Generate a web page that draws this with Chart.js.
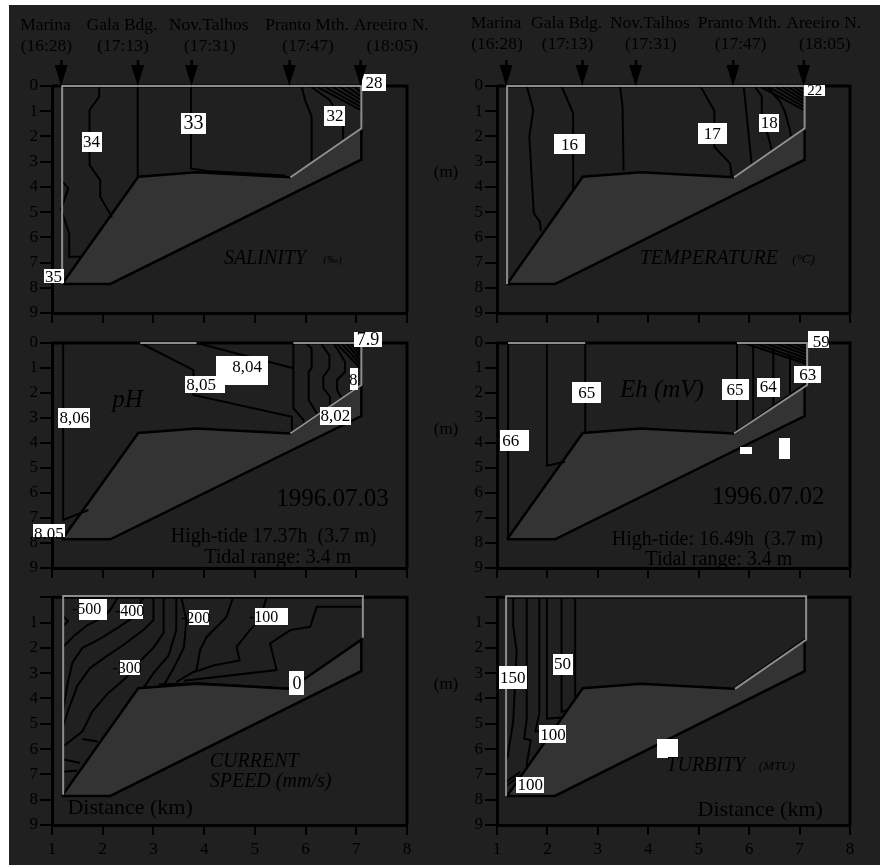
<!DOCTYPE html>
<html>
<head>
<meta charset="utf-8">
<script src="https://cdn.jsdelivr.net/npm/chart.js@4.4.1/dist/chart.umd.min.js"></script>
<style>
  html, body { margin: 0; padding: 0; background: #fff; }
  #sheet { position: absolute; left: 9px; top: 5px; width: 871px; height: 860px; background: #202020; }
  canvas { position: absolute; }
</style>
</head>
<body>
<div id="sheet"></div>
<canvas id="salinity" width="440" height="330" style="left:0;top:0"></canvas>
<canvas id="temperature" width="460" height="330" style="left:420px;top:0"></canvas>
<canvas id="ph" width="440" height="255" style="left:0;top:330px"></canvas>
<canvas id="eh" width="460" height="255" style="left:420px;top:330px"></canvas>
<canvas id="current" width="440" height="280" style="left:0;top:585px"></canvas>
<canvas id="turbidity" width="460" height="280" style="left:420px;top:585px"></canvas>
<script>
// ---- data (distance km, depth m) ----
const depthTicks = [0, 1, 2, 3, 4, 5, 6, 7, 8, 9];
const distanceTicks = [1, 2, 3, 4, 5, 6, 7, 8];

const stations = ['Marina', 'Gala Bdg.', 'Nov.Talhos', 'Pranto Mth.', 'Areeiro N.'];
const stationTimes = ['(16:28)', '(17:13)', '(17:31)', '(17:47)', '(18:05)'];
const stationKm = [1.18, 2.69, 3.75, 5.68, 7.08];

// channel bed
const bedPolygon = [[1.2, 7.85], [2.7, 3.6], [3.85, 3.42], [5.7, 3.62], [7.1, 1.68],
                    [7.1, 2.92], [2.15, 7.85], [1.2, 7.85]];

// salinity isolines
const salinityLines = [
  [[1.18, 3.73], [1.32, 4.05], [1.18, 4.9], [1.34, 5.85], [1.34, 6.77], [1.58, 6.77]],
  [[1.93, 0], [1.93, 0.42], [1.74, 0.95], [1.74, 3.13], [1.95, 3.73], [1.95, 4.39], [2.14, 5.05], [2.18, 5.2]],
  [[2.69, 0], [2.69, 3.62]],
  [[3.74, 0], [3.74, 3.27], [4.05, 3.37], [5.6, 3.55]],
  [[5.92, 0], [5.99, 0.56], [6.12, 1.22], [6.12, 3.04]],
  [[6.09, 0], [6.48, 0.56], [6.74, 1.55], [6.74, 2.15]],
  [[6.2, 0], [7.1, 0.97]], [[6.35, 0], [7.1, 0.84]], [[6.5, 0], [7.1, 0.7]],
  [[6.65, 0], [7.1, 0.56]], [[6.8, 0], [7.1, 0.42]], [[6.95, 0], [7.1, 0.28]]
];
const salinityValues = [
  [1.78, 2.21, '34'], [3.79, 1.47, '33'], [6.58, 1.19, '32'], [7.35, -0.15, '28'], [1.03, 7.55, '35']
];

// temperature isolines
const temperatureLines = [
  [[1.59, 0], [1.72, 0.95], [1.64, 2.0], [1.73, 5.05], [1.85, 5.38], [1.87, 5.75]],
  [[2.28, 0], [2.51, 1.08], [2.51, 4.1]],
  [[3.44, 0], [3.49, 0.82], [3.51, 3.35]],
  [[5.03, 0], [5.31, 0.98], [5.31, 2.41], [5.62, 3.07], [5.66, 3.6]],
  [[5.89, 0], [5.92, 0.56], [6.05, 3.1]],
  [[6.1, 0], [6.25, 0.4], [6.25, 1.1], [6.42, 2.3], [6.45, 2.58]],
  [[6.35, 0], [6.61, 0.62], [6.71, 1.02], [6.81, 1.75], [6.83, 2.05]],
  [[6.2, 0], [7.08, 0.95]], [[6.35, 0], [7.08, 0.82]], [[6.5, 0], [7.08, 0.69]],
  [[6.62, 0], [7.08, 0.56]], [[6.74, 0], [7.08, 0.43]], [[6.86, 0], [7.08, 0.3]], [[6.97, 0], [7.08, 0.16]]
];
const temperatureValues = [
  [2.44, 2.31, '16'], [5.27, 1.88, '17'], [6.40, 1.45, '18'], [7.30, 0.16, '22']
];

// pH isolines
const phLines = [
  [[1.22, 0], [2.74, 0]],
  [[1.22, 0], [1.22, 7.08], [1.72, 6.68]],
  [[2.74, 0], [3.79, 1.08], [3.79, 2.08], [5.73, 2.95], [5.73, 3.61]],
  [[3.85, 0], [5.76, 1.01]],
  [[5.76, 0], [5.76, 2.61], [5.96, 3.08], [5.96, 3.3]],
  [[6.0, 0], [6.12, 0.21], [6.12, 1.01], [6.06, 1.15], [6.06, 2.28], [6.22, 2.81], [6.22, 2.9]],
  [[6.3, 0], [6.47, 0.5], [6.47, 1.01], [6.35, 1.35], [6.35, 1.8], [6.48, 2.15], [6.48, 2.5]],
  [[6.55, 0], [6.78, 0.75], [6.78, 1.15], [6.62, 1.48], [6.62, 1.88], [6.71, 2.2]],
  [[6.6, 0], [7.1, 1.05]], [[6.7, 0], [7.1, 0.9]], [[6.8, 0], [7.1, 0.75]],
  [[6.88, 0], [7.1, 0.6]], [[6.95, 0], [7.1, 0.45]], [[7.02, 0], [7.1, 0.3]]
];
const phValues = [
  [4.75, 1.1, '8,04'], [1.44, 2.98, '8,06'], [4.02, 1.65, '8,05'], [6.59, 2.91, '8,02'],
  [7.23, -0.15, '7.9'], [6.96, 1.45, '8'], [0.94, 7.5, '8.05']
];

// Eh isolines
const ehLines = [
  [[1.22, 0], [1.22, 7.88]],
  [[1.99, 0], [1.99, 4.91], [2.35, 4.75]],
  [[2.75, 0], [2.75, 3.62]],
  [[5.76, 0], [5.76, 3.61]],
  [[6.08, 0], [6.08, 3.1]],
  [[6.48, 0.2], [6.48, 2.55]],
  [[6.81, 0.5], [6.81, 2.1]],
  [[5.9, 0], [7.15, 0.85]], [[6.1, 0], [7.15, 0.75]], [[6.3, 0], [7.15, 0.63]], [[6.5, 0], [7.15, 0.5]],
  [[6.68, 0], [7.15, 0.38]], [[6.85, 0], [7.15, 0.25]], [[7.0, 0], [7.15, 0.12]]
];
const ehValues = [
  [2.78, 1.97, '65'], [5.72, 1.86, '65'], [6.38, 1.76, '64'], [7.16, 1.27, '63'],
  [7.37, -0.15, '59'], [1.35, 3.89, '66'], [6.71, 4.21, ''], [5.93, 4.29, '']
];

// current speed isolines
const currentLines = [
  [[1.22, 0.75], [1.32, 0.95], [1.24, 1.1]],
  [[1.22, 1.96], [1.45, 1.5], [1.7, 1.1], [2.0, 0.8], [2.15, 0.5], [2.3, 0]],
  [[1.22, 4.45], [1.3, 3.5], [1.4, 2.6], [1.6, 2.0], [1.9, 1.7], [2.3, 1.2], [2.6, 0.8], [2.8, 0]],
  [[1.22, 5.1], [1.35, 4.3], [1.5, 3.5], [1.75, 2.8], [2.1, 2.3], [2.4, 1.9], [2.8, 1.3], [3.0, 0.9], [3.0, 0]],
  [[1.22, 5.9], [1.6, 5.3], [1.8, 4.5], [2.1, 3.8], [2.45, 3.2], [2.7, 2.6], [3.0, 2.0], [3.2, 1.4], [3.2, 0]],
  [[1.22, 6.4], [1.55, 6.55]],
  [[1.22, 6.9], [1.5, 6.85]],
  [[1.6, 5.6], [1.9, 5.7]],
  [[2.8, 3.6], [3.0, 3.0], [3.3, 2.3], [3.45, 1.3], [3.45, 0]],
  [[3.2, 3.5], [3.4, 2.8], [3.6, 2.0], [3.65, 0.9], [3.55, 0]],
  [[3.45, 3.35], [3.85, 2.88], [3.92, 2.09], [4.05, 1.57], [4.44, 0.78], [4.57, 0]],
  [[3.8, 2.96], [4.18, 2.7], [4.7, 2.5], [4.64, 1.96], [4.9, 1.3], [5.1, 0.9], [5.23, 0]],
  [[3.6, 3.3], [5.43, 2.88], [5.3, 1.83], [5.7, 1.3], [6.09, 1.17], [6.22, 0.38], [7.11, 0.38]],
  [[3.1, 3.45], [3.9, 3.4], [5.7, 3.62]]
];
const currentValues = [
  [1.8, 0.47, '-500'], [2.57, 0.55, '-400'], [3.89, 0.81, '-200'], [5.33, 0.78, '-100'],
  [2.54, 2.79, '-300'], [5.83, 3.39, '0']
];

// turbidity isolines
const turbidityLines = [
  [[1.32, 0], [1.32, 1.1], [1.39, 2.16], [1.32, 4.93], [1.22, 6.18], [1.2, 6.4]],
  [[1.59, 0], [1.59, 4.8], [1.54, 5.59], [1.67, 5.65], [1.6, 6.46], [1.59, 6.75]],
  [[1.84, 0], [1.84, 4.6], [1.76, 5.3], [2.12, 5.25]],
  [[1.99, 0], [1.99, 4.8], [2.29, 4.75]],
  [[2.28, 0], [2.28, 4.53], [2.4, 4.45]],
  [[2.55, 0], [2.55, 3.94], [2.59, 3.9]],
  [[1.18, 7.3], [1.46, 6.9]],
  [[1.2, 7.43], [1.48, 7.03]]
];
const turbidityValues = [
  [1.31, 3.16, '150'], [2.30, 2.64, '50'], [2.11, 5.42, '100'], [1.66, 7.41, '100'], [4.38, 5.97, '']
];

// ---- drawing ----
const SERIF = '"Liberation Serif", "DejaVu Serif", serif';
const GREY = '#8c8c8c';

function lineSet(points, color, width) {
  return {
    data: points.map(([x, y]) => ({ x, y })),
    showLine: true, borderColor: color, borderWidth: width,
    pointRadius: 0, fill: false, tension: 0, clip: false
  };
}

function makePanel(id, p) {
  const canvas = document.getElementById(id);
  const W = canvas.width, H = canvas.height;
  const datasets = [];
  p.grey.forEach(g => datasets.push(lineSet(g, GREY, 2)));
  p.lines.forEach(l => datasets.push(lineSet(l, '#000', 2)));
  datasets.push(lineSet(bedPolygon, '#000', 2.5));

  const decor = {
    id: 'decor_' + id,
    beforeDatasetsDraw(chart) {
      const { ctx, chartArea: a, scales: { x, y } } = chart;
      ctx.save();
      ctx.beginPath();
      bedPolygon.forEach(([k, d], i) => {
        const px = x.getPixelForValue(k), py = y.getPixelForValue(d);
        i ? ctx.lineTo(px, py) : ctx.moveTo(px, py);
      });
      ctx.closePath();
      ctx.fillStyle = '#333333';
      ctx.fill();
      // top and right side of the frame
      ctx.strokeStyle = '#000';
      ctx.lineWidth = 3;
      ctx.beginPath();
      ctx.moveTo(a.left, a.top);
      ctx.lineTo(a.right, a.top);
      ctx.lineTo(a.right, a.bottom);
      ctx.stroke();
      ctx.restore();
    },
    afterDatasetsDraw(chart) {
      const { ctx, scales: { x, y } } = chart;
      ctx.save();
      p.values.forEach(([k, d, txt], i) => {
        const st = p.boxes[i];
        const cx = x.getPixelForValue(k), cy = y.getPixelForValue(d);
        ctx.fillStyle = '#fff';
        ctx.fillRect(Math.round(cx - st[0] / 2), Math.round(cy - st[1] / 2), st[0], st[1]);
        if (txt) {
          ctx.fillStyle = '#000';
          ctx.font = (st[2] || 17) + 'px ' + SERIF;
          ctx.textAlign = 'center';
          ctx.textBaseline = 'middle';
          ctx.fillText(txt, cx + (st[3] || 0), cy + 1 + (st[4] || 0));
        }
      });
      p.texts.forEach(t => {
        ctx.fillStyle = '#000';
        ctx.font = (t.italic ? 'italic ' : '') + t.size + 'px ' + SERIF;
        ctx.textAlign = t.align || 'center';
        ctx.textBaseline = 'middle';
        ctx.fillText(t.text, x.getPixelForValue(t.x), y.getPixelForValue(t.y));
      });
      ctx.restore();
    },
    afterDraw(chart) {
      const { ctx, chartArea: a, scales: { x, y } } = chart;
      ctx.save();
      ctx.fillStyle = '#000';
      ctx.textBaseline = 'middle';
      ctx.textAlign = 'center';
      if (p.header) {
        ctx.font = '17.5px ' + SERIF;
        stations.forEach((s, i) => {
          const lx = x.getPixelForValue(p.header[i]);
          ctx.fillText(s, lx, p.headY[0]);
          ctx.fillText(stationTimes[i], lx + 1, p.headY[1]);
          const ax = x.getPixelForValue(stationKm[i]);
          ctx.fillRect(ax - 1, a.top - 26, 2.5, 8);
          ctx.beginPath();
          ctx.moveTo(ax - 6.5, a.top - 21);
          ctx.lineTo(ax + 6.5, a.top - 21);
          ctx.lineTo(ax, a.top);
          ctx.closePath();
          ctx.fill();
        });
      }
      if (p.yTitle) {
        ctx.font = '17px ' + SERIF;
        ctx.fillText('(m)', a.left - 51, y.getPixelForValue(3.45));
      }
      ctx.restore();
    }
  };

  return new Chart(canvas, {
    type: 'scatter',
    data: { datasets },
    options: {
      responsive: false,
      devicePixelRatio: 1,
      animation: false,
      layout: { padding: { left: 0, top: p.area.t, right: W - p.area.r, bottom: 0 } },
      plugins: { legend: { display: false }, tooltip: { enabled: false } },
      scales: {
        x: {
          type: 'linear', min: 1, max: 8,
          afterBuildTicks: s => { s.ticks = distanceTicks.map(v => ({ value: v })); },
          afterFit: s => { s.height = H - p.area.b; },
          ticks: { display: p.xLabels, color: '#000', padding: 4, font: { family: SERIF, size: 17 } },
          grid: { display: true, drawOnChartArea: false, drawTicks: true, tickLength: 10, color: '#000', lineWidth: 2 },
          border: { display: true, color: '#000', width: 3 }
        },
        y: {
          type: 'linear', min: 0, max: 9, reverse: true,
          afterBuildTicks: s => { s.ticks = depthTicks.map(v => ({ value: v })); },
          afterFit: s => { s.width = p.area.l; },
          ticks: {
            color: '#000', padding: 2, font: { family: SERIF, size: 17 },
            callback: v => (p.hideZero && v === 0) ? '' : String(v)
          },
          grid: { display: true, drawOnChartArea: false, drawTicks: true, tickLength: 12, color: '#000', lineWidth: 2 },
          border: { display: true, color: '#000', width: 3 }
        }
      }
    },
    plugins: [decor]
  });
}

const leftHead = [0.87, 2.38, 4.09, 6.03, 7.69];
const rightHead = [0.98, 2.38, 4.03, 5.81, 7.48];
const fullEdge = [[5.7, 3.62], [7.1, 1.68], [7.1, 0], [1.2, 0], [1.2, 7.85]];

makePanel('salinity', {
  area: { l: 52, t: 86, r: 407, b: 313 }, xLabels: false,
  header: leftHead, headY: [25, 46.5],
  grey: [fullEdge], lines: salinityLines, values: salinityValues,
  boxes: [[20, 20], [25, 21, 20], [21, 20], [24, 17], [20, 14]],
  texts: [
    { text: 'SALINITY', x: 5.2, y: 6.83, size: 20, italic: true },
    { text: '(‰)', x: 6.53, y: 6.9, size: 11, italic: true }
  ]
});

makePanel('temperature', {
  area: { l: 77, t: 86, r: 430, b: 313 }, xLabels: false, yTitle: true,
  header: rightHead, headY: [23.5, 44],
  grey: [fullEdge], lines: temperatureLines, values: temperatureValues,
  boxes: [[31, 20], [29, 21], [20, 18], [21, 11, 15]],
  texts: [
    { text: 'TEMPERATURE', x: 5.2, y: 6.83, size: 20, italic: true },
    { text: '(°C)', x: 7.08, y: 6.88, size: 13, italic: true }
  ]
});

makePanel('ph', {
  area: { l: 52, t: 13, r: 407, b: 238 }, xLabels: false,
  grey: [[[2.74, 0], [3.85, 0]], [[5.76, 0], [7.1, 0], [7.1, 1.68], [5.7, 3.62]]],
  lines: phLines, values: phValues,
  boxes: [[52, 29, 17, 5, -4], [32, 20], [40, 17, 17, -4], [31, 18], [28, 15, 18], [8, 22, 17, -1], [32, 13, 17, 0, 3]],
  texts: [
    { text: 'pH', x: 2.49, y: 2.28, size: 25, italic: true },
    { text: '1996.07.03', x: 6.53, y: 6.25, size: 25 },
    { text: 'High-tide 17.37h  (3.7 m)', x: 5.37, y: 7.75, size: 20 },
    { text: 'Tidal range: 3.4 m', x: 5.45, y: 8.6, size: 20 }
  ]
});

makePanel('eh', {
  area: { l: 77, t: 13, r: 430, b: 238 }, xLabels: false, yTitle: true,
  grey: [[[1.22, 0], [2.75, 0]], [[5.76, 0], [7.15, 0], [7.15, 1.68], [5.7, 3.62]]],
  lines: ehLines, values: ehValues,
  boxes: [[29, 21], [27, 21], [23, 19], [27, 17], [21, 17, 17, 3, 2], [29, 21, 17, -4], [11, 21], [12, 7]],
  texts: [
    { text: 'Eh (mV)', x: 4.27, y: 1.88, size: 25, italic: true },
    { text: '1996.07.02', x: 6.38, y: 6.19, size: 25 },
    { text: 'High-tide: 16.49h  (3.7 m)', x: 5.37, y: 7.85, size: 20 },
    { text: 'Tidal range: 3.4 m', x: 5.4, y: 8.65, size: 20 }
  ]
});

makePanel('current', {
  area: { l: 52, t: 12, r: 407, b: 240 }, xLabels: true, hideZero: true,
  grey: [[[7.13, 1.6], [7.13, -0.05], [1.22, -0.05], [1.22, 7.8]]],
  lines: currentLines, values: currentValues,
  boxes: [[28, 21, 16, -6], [23, 15, 16, -2], [20, 15, 16, -3], [33, 17, 16, -8], [20, 15, 16, -3], [15, 24, 18]],
  texts: [
    { text: 'CURRENT', x: 4.11, y: 6.51, size: 20, italic: true, align: 'left' },
    { text: 'SPEED (mm/s)', x: 4.11, y: 7.3, size: 20, italic: true, align: 'left' },
    { text: 'Distance (km)', x: 2.54, y: 8.34, size: 22 }
  ]
});

makePanel('turbidity', {
  area: { l: 77, t: 12, r: 430, b: 240 }, xLabels: true, hideZero: true, yTitle: true,
  grey: [[[5.72, 3.62], [7.13, 1.68], [7.13, -0.04], [1.18, -0.04], [1.18, 7.85]]],
  lines: turbidityLines, values: turbidityValues,
  boxes: [[28, 23], [20, 21], [27, 18], [28, 16], [21, 19]],
  texts: [
    { text: 'TURBITY', x: 5.14, y: 6.64, size: 20, italic: true },
    { text: '(MTU)', x: 6.55, y: 6.7, size: 13, italic: true },
    { text: 'Distance (km)', x: 6.22, y: 8.4, size: 22 }
  ]
});
</script>
</body>
</html>
